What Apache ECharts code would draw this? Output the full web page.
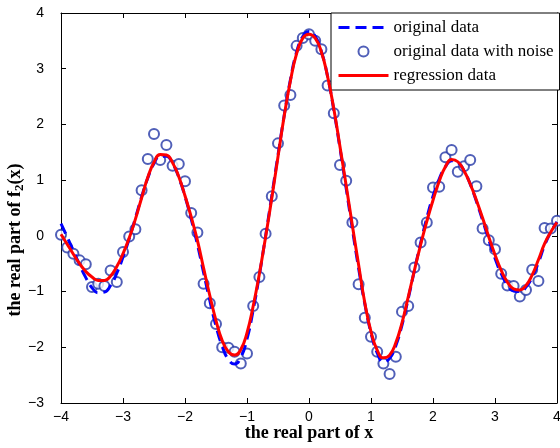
<!DOCTYPE html>
<html>
<head>
<meta charset="utf-8">
<script src="https://cdn.jsdelivr.net/npm/echarts@6/dist/echarts.min.js"></script>
<style>
  html, body { margin: 0; padding: 0; background: #fff; }
  #main { width: 560px; height: 448px; }
</style>
</head>
<body>
<div id="main"></div>
<script>
// x positions of the samples
const xs = [
  -4.0, -3.9, -3.8, -3.7, -3.6, -3.5, -3.4, -3.3, -3.2, -3.1,
  -3.0, -2.9, -2.8, -2.7, -2.6, -2.5, -2.4, -2.3, -2.2, -2.1,
  -2.0, -1.9, -1.8, -1.7, -1.6, -1.5, -1.4, -1.3, -1.2, -1.1,
  -1.0, -0.9, -0.8, -0.7, -0.6, -0.5, -0.4, -0.3, -0.2, -0.1,
  0.0, 0.1, 0.2, 0.3, 0.4, 0.5, 0.6, 0.7, 0.8, 0.9,
  1.0, 1.1, 1.2, 1.3, 1.4, 1.5, 1.6, 1.7, 1.8, 1.9,
  2.0, 2.1, 2.2, 2.3, 2.4, 2.5, 2.6, 2.7, 2.8, 2.9,
  3.0, 3.1, 3.2, 3.3, 3.4, 3.5, 3.6, 3.7, 3.8, 3.9,
  4.0
]

// original data (blue dashed)
const original = [
  0.22, -0.02, -0.27, -0.52, -0.75, -0.93, -1.02, -1.01, -0.89, -0.67,
  -0.38, -0.05, 0.32, 0.70, 1.04, 1.30, 1.43, 1.43, 1.30, 1.05,
  0.71, 0.30, -0.15, -0.66, -1.16, -1.62, -1.98, -2.22, -2.30, -2.18,
  -1.85, -1.33, -0.70, 0.00, 0.72, 1.45, 2.16, 2.80, 3.30, 3.58,
  3.67, 3.58, 3.31, 2.86, 2.26, 1.57, 0.85, 0.12, -0.58, -1.22,
  -1.74, -2.10, -2.26, -2.20, -1.97, -1.60, -1.13, -0.62, -0.13, 0.32,
  0.71, 1.02, 1.24, 1.35, 1.32, 1.17, 0.93, 0.62, 0.28, -0.07,
  -0.40, -0.68, -0.88, -0.99, -1.00, -0.92, -0.74, -0.48, -0.17, 0.07,
  0.25
]

// original data with noise (circles)
const noisy = [
  0.02, -0.21, -0.32, -0.44, -0.51, -0.92, -0.86, -0.90, -0.62, -0.83,
  -0.29, -0.01, 0.12, 0.82, 1.38, 1.83, 1.36, 1.63, 1.26, 1.29,
  0.98, 0.41, 0.06, -0.86, -1.21, -1.58, -2.00, -2.01, -2.08, -2.29,
  -2.11, -1.26, -0.74, 0.04, 0.71, 1.66, 2.34, 2.53, 3.41, 3.55,
  3.62, 3.50, 3.35, 2.70, 2.20, 1.27, 0.99, 0.24, -0.87, -1.47,
  -1.81, -2.08, -2.29, -2.48, -2.17, -1.36, -1.26, -0.57, -0.12, 0.24,
  0.87, 0.88, 1.41, 1.54, 1.15, 1.25, 1.36, 0.89, 0.13, -0.08,
  -0.24, -0.68, -0.89, -0.90, -1.09, -0.97, -0.61, -0.81, 0.14, 0.13,
  0.27
]

// regression data (red)
const regression = [
  0.03, -0.15, -0.33, -0.50, -0.64, -0.74, -0.80, -0.80, -0.72, -0.55,
  -0.32, -0.04, 0.30, 0.68, 1.05, 1.32, 1.46, 1.45, 1.31, 1.06,
  0.72, 0.34, -0.08, -0.58, -1.07, -1.52, -1.88, -2.08, -2.14, -2.04,
  -1.74, -1.26, -0.68, -0.02, 0.68, 1.42, 2.15, 2.78, 3.27, 3.55,
  3.62, 3.55, 3.30, 2.86, 2.28, 1.60, 0.90, 0.18, -0.52, -1.20,
  -1.72, -2.05, -2.19, -2.14, -1.92, -1.56, -1.10, -0.62, -0.16, 0.26,
  0.64, 0.98, 1.24, 1.37, 1.33, 1.17, 0.93, 0.64, 0.32, -0.02,
  -0.34, -0.62, -0.83, -0.95, -0.97, -0.89, -0.70, -0.43, -0.14, 0.07,
  0.24
]

const pair = (ys) => xs.map((x, i) => [x, ys[i]])
const minus = (v) => String(v).replace('-', '\u2212')

const tickFont = { fontFamily: 'Liberation Sans, Arial, sans-serif', fontSize: 14, color: '#000' }
const serifBold = { fontFamily: 'Liberation Serif, Times New Roman, serif', fontWeight: 'bold', fontSize: 18, color: '#000' }

const chart = echarts.init(document.getElementById('main'), null, { renderer: 'canvas' })

// box axes, ticks pointing in, like the original figure
const axisBase = {
  axisLine: { onZero: false, lineStyle: { color: '#000', width: 1 } },
  axisTick: { inside: true, length: 5, lineStyle: { color: '#000' } },
  splitLine: { show: false }
}

const option = {
  animation: false,
  backgroundColor: '#fff',
  grid: { left: 61, right: 3, top: 13, bottom: 45, containLabel: false, outerBoundsMode: 'none' },
  legend: {
    orient: 'vertical',
    left: 331,
    top: 13,
    padding: [6, 6, 6, 6],
    itemGap: 7,
    itemWidth: 50,
    itemHeight: 10,
    backgroundColor: '#fff',
    borderColor: '#000',
    borderWidth: 1,
    borderRadius: 0,
    lineStyle: { width: 3 },
    textStyle: { fontFamily: 'Liberation Serif, Times New Roman, serif', fontSize: 17, color: '#000' },
    data: [
      { name: 'original data', itemStyle: { opacity: 0 } },
      { name: 'original data with noise' },
      { name: 'regression data', itemStyle: { opacity: 0 } }
    ]
  },
  xAxis: [
    Object.assign({}, axisBase, {
      type: 'value', min: -4, max: 4, interval: 1,
      name: 'the real part of x', nameLocation: 'middle', nameGap: 21, nameMoveOverlap: false,
      nameTextStyle: serifBold,
      axisLabel: Object.assign({ margin: 7, formatter: minus }, tickFont)
    }),
    Object.assign({}, axisBase, {
      type: 'value', min: -4, max: 4, interval: 1, position: 'top',
      axisLabel: { show: false }
    })
  ],
  yAxis: [
    Object.assign({}, axisBase, {
      type: 'value', min: -3, max: 4, interval: 1,
      name: '{a|the real part of f}{s|2}{a|(x)}', nameLocation: 'middle', nameGap: 35, nameRotate: 90,
      nameMoveOverlap: false,
      nameTextStyle: {
        padding: [0, 64, 0, 0],
        rich: {
          a: serifBold,
          s: Object.assign({}, serifBold, { fontSize: 13, verticalAlign: 'bottom', padding: [8, 0, 0, 0] })
        }
      },
      axisLabel: Object.assign({ margin: 17, formatter: minus }, tickFont)
    }),
    Object.assign({}, axisBase, {
      type: 'value', min: -3, max: 4, interval: 1, position: 'right',
      axisLabel: { show: false }
    })
  ],
  series: [
    {
      name: 'original data with noise',
      type: 'scatter',
      symbol: 'emptyCircle',
      symbolSize: 10,
      itemStyle: { color: '#2437a6', borderWidth: 1 },
      data: pair(noisy),
      z: 2
    },
    {
      name: 'original data',
      type: 'line',
      smooth: true,
      symbol: 'none',
      lineStyle: { color: '#0000ff', width: 3, type: [11, 6] },
      itemStyle: { color: '#0000ff' },
      data: pair(original),
      z: 3
    },
    {
      name: 'regression data',
      type: 'line',
      smooth: true,
      symbol: 'none',
      lineStyle: { color: '#ff0000', width: 3 },
      itemStyle: { color: '#ff0000' },
      data: pair(regression),
      z: 4
    }
  ]
}

chart.setOption(option)
</script>
</body>
</html>
